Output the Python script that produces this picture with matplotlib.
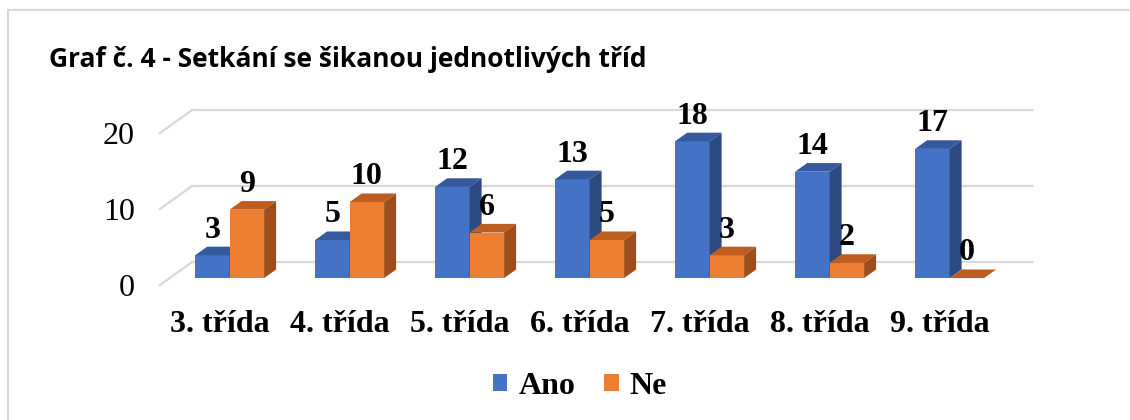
import matplotlib.pyplot as plt
from matplotlib.patches import Rectangle

# Data
categories = ["3. třída", "4. třída", "5. třída", "6. třída", "7. třída", "8. třída", "9. třída"]
ano = [3, 5, 12, 13, 18, 14, 17]
ne = [9, 10, 6, 5, 3, 2, 0]
yticks = [0, 10, 20]
title = "Graf č. 4 - Setkání se šikanou jednotlivých tříd"

plt.rcParams['font.family'] = ['Liberation Serif', 'DejaVu Serif']

fig = plt.figure(figsize=(11.3, 4.2), dpi=100)
ax = fig.add_axes([0, 0, 1, 1])
px_x, px_y = 120, 7.6   # pixels per category / per unit
ax.set_xlim(-220 / px_x, 910 / px_x)
ax.set_ylim(-135 / px_y, 285 / px_y)
ax.axis('off')

# fake 3D: depth of the floor (front edge -> back wall)
DX, DY = 32 / px_x, 23 / px_y
d0, d1 = 0.3, 0.675      # bar front / back as a fraction of the depth
w = 0.2875
n = len(categories)
fs = 23

grid_c = '#d9d9d9'
for v in yticks:
    ax.plot([-0.5 + DX, n - 0.5 + DX], [v + DY, v + DY], color=grid_c, lw=1.6, zorder=1)
    ax.plot([-0.5, -0.5 + DX], [v, v + DY], color=grid_c, lw=1.6, zorder=1)
    ax.text(-0.5 - 25 / px_x, v - 1.45, str(v), ha='right', va='baseline', fontsize=fs)


def bar3d(xs, vals, front, top, side, label, z):
    x0 = [x + d0 * DX for x in xs]
    b = d0 * DY
    ddx, ddy = (d1 - d0) * DX, (d1 - d0) * DY
    ax.bar(x0, vals, width=w, bottom=b, align='edge', color=front, label=label,
           linewidth=0, zorder=z)
    for xl, v in zip(x0, vals):
        xr = xl + w
        ax.fill([xl, xr, xr + ddx, xl + ddx], [v + b, v + b, v + b + ddy, v + b + ddy],
                color=top, lw=0, zorder=z)
        ax.fill([xr, xr, xr + ddx, xr + ddx], [b, v + b, v + b + ddy, b + ddy],
                color=side, lw=0, zorder=z)
        ax.text(xl + w / 2, v + d1 * DY + 1.2, str(v), ha='center', va='baseline',
                fontsize=fs, weight='bold', zorder=z + 2)


pos = list(range(n))
bar3d([p - w for p in pos], ano, '#4472c4', '#35599c', '#2c4a80', 'Ano', 3)
bar3d(pos, ne, '#ed7d31', '#bd5e20', '#9e4e1b', 'Ne', 4)

for i, c in enumerate(categories):
    ax.text(i, -6.18, c, ha='center', va='baseline', fontsize=fs, weight='bold')

fig.text(49 / 1130, 1 - 67 / 420, title, family='Open Sans', weight='bold', fontsize=19,
         ha='left', va='baseline')

fig.legend(loc='center', bbox_to_anchor=(580 / 1130, 1 - 386 / 420), ncol=2, frameon=False,
           prop=dict(weight='bold', size=fs), handlelength=0.45, handleheight=0.45,
           handletextpad=0.35, columnspacing=0.9)

fig.patches.append(Rectangle((8 / 1130, -0.05), 1.1, 1.05 - 10 / 420, transform=fig.transFigure,
                             fill=False, edgecolor=grid_c, lw=1.5))

fig.savefig('out.png', dpi=100)
